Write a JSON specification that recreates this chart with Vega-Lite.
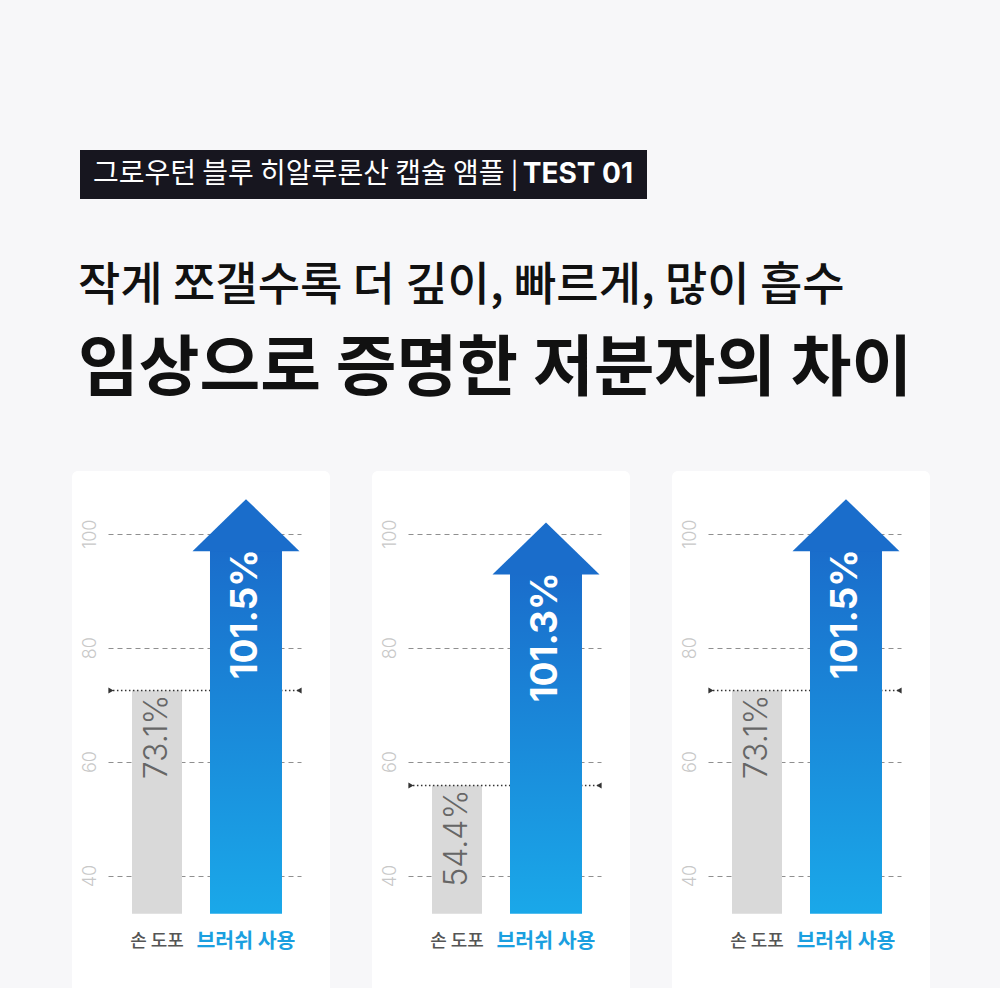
{
  "$schema": "https://vega.github.io/schema/vega-lite/v6.json",
  "description": "Hand application vs brush application, three absorption tests",
  "background": "#f7f7f9",
  "padding": {"left": 72, "top": 150, "right": 70, "bottom": 0},
  "config": {
    "font": "Noto Sans CJK KR",
    "view": {"fill": "white", "stroke": null, "cornerRadius": 6}
  },
  "columns": 1,
  "align": "none",
  "spacing": 64,
  "concat": [
    {
      "width": 575,
      "height": 49,
      "view": {"fill": "transparent", "stroke": null, "cornerRadius": 0},
      "layer": [
        {
          "data": {"values": [{"t": "badge"}]},
          "mark": {"type": "rect", "color": "#17161f"},
          "encoding": {
            "x": {"datum": 0, "type": "quantitative", "scale": {"domain": [0, 1], "range": [8, 575]}, "axis": null},
            "x2": {"datum": 1}
          }
        },
        {
          "data": {"values": [{"t": "그로우턴 블루 히알루론산 캡슐 앰플 |"}]},
          "mark": {"type": "text", "align": "left", "baseline": "middle", "dx": 13, "color": "white", "fontSize": 28, "fontWeight": 400},
          "encoding": {"x": {"datum": 0, "type": "quantitative"}, "text": {"field": "t"}}
        },
        {
          "data": {"values": [{"t": "TEST 01"}]},
          "mark": {"type": "text", "align": "right", "baseline": "middle", "dx": -14, "color": "white", "fontSize": 28, "fontWeight": 700, "font": "Inter"},
          "encoding": {"x": {"datum": 1, "type": "quantitative"}, "text": {"field": "t"}}
        }
      ]
    },
    {
      "data": {
        "values": [
          {"test": "1", "group": "손 도포", "level": 72.5, "label": "73.1%"},
          {"test": "1", "group": "브러쉬 사용", "level": 101.5, "label": "101.5%"},
          {"test": "2", "group": "손 도포", "level": 55.8, "label": "54.4%"},
          {"test": "2", "group": "브러쉬 사용", "level": 97.4, "label": "101.3%"},
          {"test": "3", "group": "손 도포", "level": 72.5, "label": "73.1%"},
          {"test": "3", "group": "브러쉬 사용", "level": 101.5, "label": "101.5%"}
        ]
      },
      "title": {
        "text": "작게 쪼갤수록 더 깊이, 빠르게, 많이 흡수",
        "subtitle": "임상으로 증명한 저분자의 차이",
        "anchor": "start",
        "dx": 6,
        "font": "Noto Sans CJK KR",
        "fontSize": 46,
        "fontWeight": 500,
        "color": "#111111",
        "subtitleFont": "Noto Sans CJK KR",
        "subtitleFontSize": 66,
        "subtitleFontWeight": 700,
        "subtitleColor": "#111111",
        "subtitlePadding": 28,
        "offset": 67
      },
      "facet": {"column": {"field": "test", "type": "ordinal", "header": null}},
      "spacing": 42,
      "resolve": {"axis": {"x": "independent", "y": "independent"}},
      "spec": {
        "width": 258,
        "height": 530,
        "encoding": {
          "x": {
            "field": "group",
            "type": "nominal",
            "sort": ["손 도포", "브러쉬 사용"],
            "scale": {"range": [36, 229], "paddingInner": 0, "paddingOuter": 0.0843, "align": 0.3},
            "axis": {
              "orient": "bottom",
              "offset": -60,
              "title": null,
              "domain": false,
              "ticks": false,
              "tickSize": 0,
              "grid": false,
              "labelAngle": 0,
              "labelPadding": 0,
              "labelBaseline": "middle",
              "labelFont": "Noto Sans CJK KR",
              "labelFontSize": {"condition": {"test": "datum.value === '손 도포'", "value": 18}, "value": 20.5},
              "labelFontWeight": {"condition": {"test": "datum.value === '손 도포'", "value": 500}, "value": 700},
              "labelColor": {"condition": {"test": "datum.value === '손 도포'", "value": "#555555"}, "value": "#1a9fe0"}
            }
          },
          "y": {
            "field": "level",
            "type": "quantitative",
            "scale": {"domain": [18, 111], "nice": false, "zero": false},
            "axis": {
              "values": [40, 60, 80, 100],
              "title": null,
              "offset": -18,
              "minExtent": 0,
              "domain": false,
              "ticks": false,
              "tickSize": 0,
              "labelPadding": 0,
              "labelAngle": 270,
              "labelAlign": "center",
              "labelBaseline": "middle",
              "labelFont": "Inter",
              "labelFontWeight": 300,
              "labelFontSize": 18,
              "labelColor": "#c8c8c8",
              "grid": true,
              "gridColor": "#8f8f8f",
              "gridDash": [5, 4],
              "gridWidth": 1
            }
          }
        },
        "layer": [
          {
            "transform": [{"filter": "datum.group === '손 도포'"}],
            "mark": {"type": "bar", "width": 50, "color": "#d9d9d9"},
            "encoding": {"y2": {"datum": 33.3}}
          },
          {
            "transform": [{"filter": "datum.group === '손 도포'"}],
            "mark": {"type": "rule", "color": "#333333", "strokeWidth": 1.5, "strokeDash": [1.5, 2.5]},
            "encoding": {
              "x": {"datum": "손 도포", "bandPosition": -0.04},
              "x2": {"datum": "브러쉬 사용", "bandPosition": 1.118}
            }
          },
          {
            "transform": [{"filter": "datum.group === '손 도포'"}],
            "mark": {"type": "point", "shape": "triangle-right", "size": 36, "filled": true, "opacity": 1, "color": "#333333"},
            "encoding": {"x": {"datum": "손 도포", "bandPosition": -0.017}}
          },
          {
            "transform": [{"filter": "datum.group === '손 도포'"}],
            "mark": {"type": "point", "shape": "triangle-left", "size": 36, "filled": true, "opacity": 1, "color": "#333333"},
            "encoding": {"x": {"datum": "브러쉬 사용", "bandPosition": 1.0955}}
          },
          {
            "transform": [{"filter": "datum.group === '브러쉬 사용'"}],
            "mark": {
              "type": "bar",
              "width": 72,
              "yOffset": 24,
              "color": {
                "gradient": "linear",
                "x1": 0, "y1": 0, "x2": 0, "y2": 1,
                "stops": [{"offset": 0, "color": "#1a6dcb"}, {"offset": 1, "color": "#1aa8e9"}]
              }
            },
            "encoding": {"y2": {"datum": 33.3}}
          },
          {
            "transform": [{"filter": "datum.group === '브러쉬 사용'"}],
            "mark": {"type": "point", "shape": "M-1,0.486L0,-0.486L1,0.486Z", "size": 11449, "filled": true, "opacity": 1, "strokeWidth": 0, "color": "#1a6dcb"}
          },
          {
            "transform": [{"filter": "datum.group === '브러쉬 사용'"}],
            "mark": {"type": "text", "angle": 270, "align": "right", "baseline": "middle", "yOffset": 24, "font": "Inter", "fontSize": 37, "fontWeight": 700, "color": "white"},
            "encoding": {"text": {"field": "label"}}
          },
          {
            "transform": [{"filter": "datum.group === '손 도포'"}],
            "mark": {"type": "text", "angle": 270, "align": "right", "baseline": "middle", "yOffset": 4, "font": "Inter", "fontSize": 32, "fontWeight": 300, "color": "#666666"},
            "encoding": {"text": {"field": "label"}}
          }
        ]
      }
    }
  ]
}
